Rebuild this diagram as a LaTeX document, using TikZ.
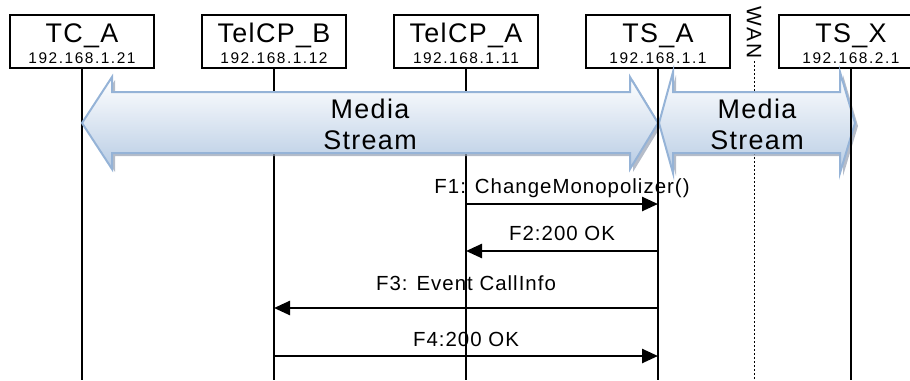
\documentclass[tikz,border=0pt]{standalone}
\usepackage{fontspec}
\setmainfont{Liberation Sans}
\newfontfamily\spacedfont[LetterSpace=5]{Liberation Sans}
\newfontfamily\addrfont[LetterSpace=10]{Liberation Sans}
\usetikzlibrary{arrows.meta}

\definecolor{streamline}{RGB}{149,179,215}
\definecolor{streamfill}{RGB}{184,204,228}
\definecolor{streamshadow}{RGB}{150,160,178}

\begin{document}
\begin{tikzpicture}[x=1bp,y=-1bp]
  \tikzstyle{entity}=[draw,line width=1.8bp,minimum width=144bp,minimum height=53bp,inner sep=0pt]
  \tikzstyle{title}=[anchor=base,inner sep=0pt,font=\spacedfont\fontsize{27}{27}\selectfont]
  \tikzstyle{addr}=[anchor=base,inner sep=0pt,font=\addrfont\fontsize{15.5}{15.5}\selectfont]
  \tikzstyle{life}=[line width=1.7bp]
  \tikzstyle{msg}=[line width=2.5bp,-{Triangle[length=16bp,width=14bp]}]
  \tikzstyle{msglabel}=[anchor=base,inner sep=0pt,font=\spacedfont\fontsize{20.5}{20.5}\selectfont]
  \tikzstyle{stream}=[draw=streamline,line width=2bp,line join=miter,top color=white,bottom color=streamfill]
  \tikzstyle{streamshade}=[fill=streamshadow,opacity=0.7,shift={(3,3)}]
  \tikzstyle{streamtext}=[anchor=base,inner sep=0pt,font=\spacedfont\fontsize{27}{27}\selectfont]
  \useasboundingbox (0,0) rectangle (910,380);

  % entities
  \foreach \n/\x/\t/\a in {tca/82/TC\_A/192.168.1.21, tcpb/274/TelCP\_B/192.168.1.12,
      tcpa/466/TelCP\_A/192.168.1.11, tsa/658/TS\_A/192.168.1.1, tsx/851/TS\_X/192.168.2.1}{
    \node[entity] (\n) at (\x,41.5) {};
    \node[title] (\n-t) at (\x,42) {\t};
    \node[addr] (\n-a) at (\x,63) {\a};
  }
  \foreach \n in {tca,tcpb,tcpa}
    \draw[life] (\n.south) -- (\n.south |- 0,380);

  % WAN border
  \node[rotate=-90,inner sep=2bp,font=\addrfont\fontsize{21}{21}\selectfont] (wan) at (754,33) {WAN};
  \draw[line width=0.8bp,dash pattern=on 2bp off 2bp] (wan.east) -- (wan.east |- 0,380);

  % media streams
  \fill[streamshade] (82,123) -- (112,77) -- (112,92) -- (630,92) -- (630,77) -- (658,123)
    -- (630,169) -- (630,153) -- (112,153) -- (112,169) -- cycle;
  \path[stream] (82,123) -- (112,77) -- (112,92) -- (630,92) -- (630,77) -- (658,123)
    -- (630,169) -- (630,153) -- (112,153) -- (112,169) -- cycle;
  \fill[streamshade] (659,123) -- (673,72) -- (673,92) -- (840,92) -- (840,72) -- (855,123)
    -- (840,173) -- (840,153) -- (673,153) -- (673,173) -- cycle;
  \path[stream] (659,123) -- (673,72) -- (673,92) -- (840,92) -- (840,72) -- (855,123)
    -- (840,173) -- (840,153) -- (673,153) -- (673,173) -- cycle;
  \node[streamtext] (ms1a) at (370,118) {Media};
  \node[streamtext] (ms1b) at (370,149) {Stream};
  \node[streamtext] (ms2a) at (757,118) {Media};
  \node[streamtext] (ms2b) at (757,149) {Stream};

  \foreach \n in {tsa,tsx}
    \draw[life] (\n.south) -- (\n.south |- 0,380);

  % messages
  \draw[msg] (tcpa |- 0,204) -- (tsa |- 0,204);
  \node[msglabel] (f1) at (562,193) {F1: ChangeMonopolizer()};
  \draw[msg] (tsa |- 0,251) -- (tcpa |- 0,251);
  \node[msglabel] (f2) at (562,240) {F2:200 OK};
  \draw[msg] (tsa |- 0,308) -- (tcpb |- 0,308);
  \node[msglabel] (f3) at (466,290) {F3: Event CallInfo};
  \draw[msg] (tcpb |- 0,356) -- (tsa |- 0,356);
  \node[msglabel] (f4) at (466,346) {F4:200 OK};
\end{tikzpicture}
\end{document}
